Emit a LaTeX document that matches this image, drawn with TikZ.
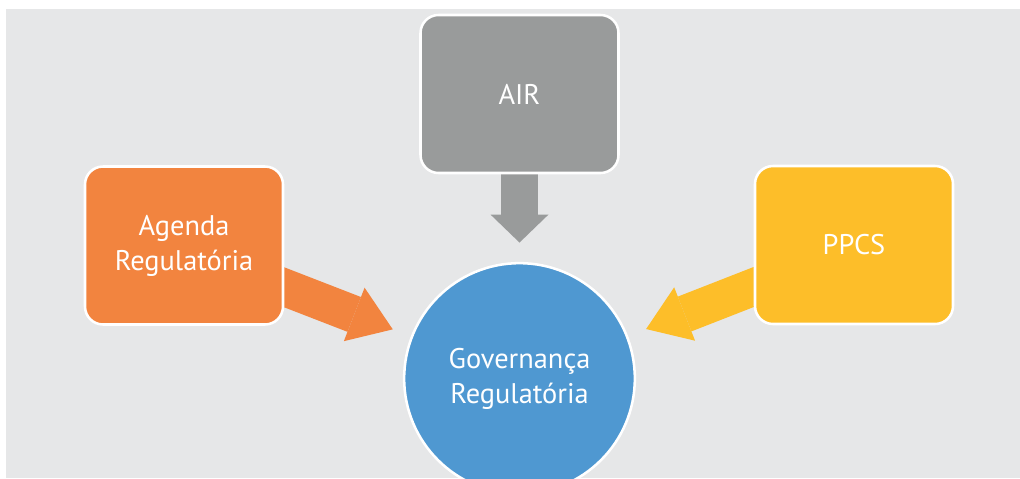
\documentclass[tikz,border=0pt]{standalone}
\usepackage{fontspec}
\setmainfont{PT Sans}
\usepackage{xcolor}
\usepackage{tikz}
\usetikzlibrary{arrows.meta, backgrounds, calc}
\definecolor{panel}{HTML}{E6E7E8}
\definecolor{airgray}{HTML}{999B9B}
\definecolor{agendaorange}{HTML}{F2843F}
\definecolor{ppcsyellow}{HTML}{FDBE29}
\definecolor{govblue}{HTML}{4F98D1}
\tikzstyle{source} = [rectangle, rounded corners=13.5pt, minimum width=148.5pt, minimum height=118.5pt, align=center, draw=white, line width=1.9pt, text=white]
\tikzstyle{hub} = [circle, minimum size=173pt, align=center, draw=white, line width=1.9pt, text=white, fill=govblue]
\tikzstyle{flow} = [line width=28pt, shorten >=14.5pt]

\begin{document}
\begin{tikzpicture}[x=0.75pt, y=-0.75pt, font=\fontsize{21.3}{26.25}\selectfont]
	\useasboundingbox (0,0) rectangle (1020,478);
	\clip (0,0) rectangle (1020,478);
	\node (gov) [hub] at (519.5,378.5) {Governança\\Regulatória};
	\node (air) [source, fill=airgray] at (519.5,94) {AIR};
	\node (agenda) [source, fill=agendaorange] at (184,245.5) {Agenda\\Regulatória};
	\node (ppcs) [source, fill=ppcsyellow] at (854,245) {PPCS};
	\coordinate (agendafoot) at ($(agenda.east)+(-24,32.5)$);
	\coordinate (ppcsfoot) at ($(ppcs.west)+(23,33)$);

	\begin{scope}[on background layer]
		\fill [panel] (6,9) rectangle (1020,478);
		\draw [flow, airgray, -{Triangle[width=43.5pt, length=21pt, line width=0pt]}] (air) -- (gov);
		\draw [flow, agendaorange, -{Triangle[width=43pt, length=31pt, line width=0pt]}] (agendafoot) -- (gov);
		\draw [flow, ppcsyellow, -{Triangle[width=43pt, length=31pt, line width=0pt]}] (ppcsfoot) -- (gov);
	\end{scope}
\end{tikzpicture}
\end{document}
